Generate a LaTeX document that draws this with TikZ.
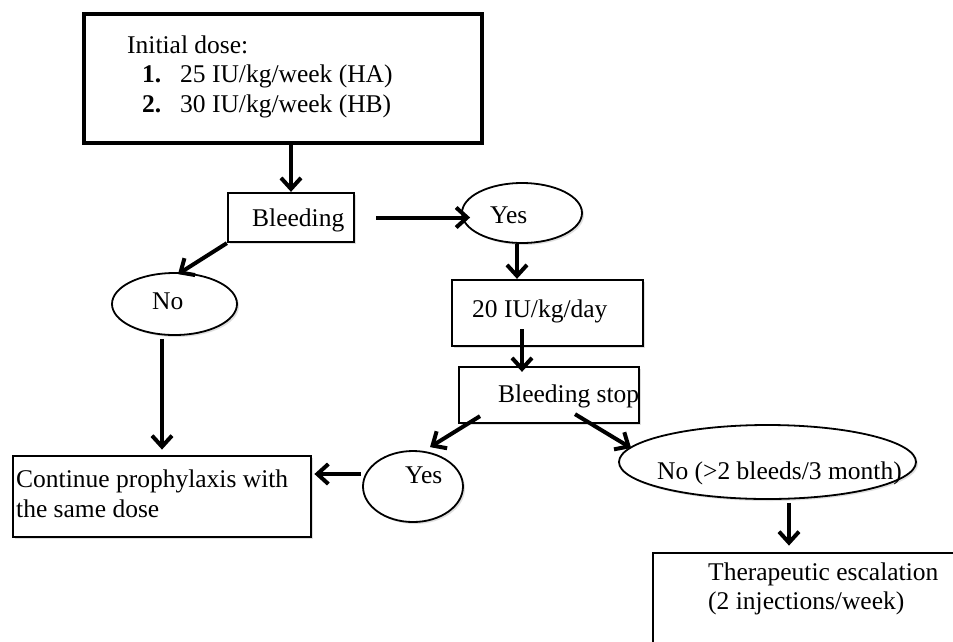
\documentclass[tikz,border=0pt]{standalone}
\usepackage{fontspec}
\setmainfont{Liberation Serif}
\usetikzlibrary{arrows.meta,shapes.geometric,calc,shadows}
\begin{document}
\begin{tikzpicture}[x=1pt,y=-1pt,
  shd/.style={drop shadow={shadow xshift=2pt,shadow yshift=-2pt,opacity=0.25,fill=gray}},
  boxnode/.style={draw=black,line width=2.3pt,fill=white,rectangle,inner sep=0pt,shd},
  ellnode/.style={draw=black,line width=1.8pt,fill=white,ellipse,inner sep=0pt,shd},
  txt/.style={anchor=base west,inner sep=0pt,font=\fontsize{25.5}{30}\selectfont},
  arr/.style={line width=4pt,-{Straight Barb[length=11pt,width=20pt,line width=4pt]}}]
\clip (0,0) rectangle (953,641);
\fill[white] (0,0) rectangle (953,641);
% shapes
\node[boxnode,line width=3.3pt,minimum width=398pt,minimum height=129pt] (init) at (283,78.5) {};
\node[boxnode,minimum width=126pt,minimum height=49pt] (bleed) at (291,217.5) {};
\node[ellnode,minimum width=120pt,minimum height=60pt] (yes1) at (522,213) {};
\node[ellnode,minimum width=125pt,minimum height=62pt] (no1) at (174.5,304) {};
\node[boxnode,minimum width=191pt,minimum height=66pt] (d20) at (547.5,313) {};
\node[boxnode,minimum width=180pt,minimum height=56pt] (stop) at (549,395) {};
\node[ellnode,minimum width=297pt,minimum height=74pt] (no2) at (767.5,462) {};
\node[ellnode,minimum width=100pt,minimum height=71pt] (yes2) at (413,486.5) {};
\node[boxnode,line width=2.8pt,minimum width=298pt,minimum height=81pt] (cont) at (162,496.5) {};
\node[boxnode,line width=2.8pt,minimum width=317pt,minimum height=107pt] (ther) at (811.5,606.5) {};
% texts
\node[txt] (ti1) at (127,53) {Initial dose:};
\node[txt] (ti2) at (142,82) {\textbf{1.}};
\node[txt] (ti3) at (180,82) {25 IU/kg/week (HA)};
\node[txt] (ti4) at (142,112) {\textbf{2.}};
\node[txt] (ti5) at (180,112) {30 IU/kg/week (HB)};
\node[txt] (tb) at (252,226) {Bleeding};
\node[txt] (ty1) at (490,223) {Yes};
\node[txt] (tn1) at (152,309) {No};
\node[txt] (td) at (472,317) {20 IU/kg/day};
\begin{scope}
\clip (stop.north west) rectangle (stop.south east);
\node[txt] (ts) at (498,402) {Bleeding stop};
\end{scope}
\node[txt] (ty2) at (405,483) {Yes};
\node[txt] (tn2) at (657,479) {No (>2 bleeds/3 month)};
\node[txt] (tc1) at (16,487) {Continue prophylaxis with};
\node[txt] (tc2) at (16,517) {the same dose};
\node[txt] (tt1) at (708,580) {Therapeutic escalation};
\node[txt] (tt2) at (708,609) {(2 injections/week)};
% arrows
\draw[arr] (init.south -| bleed.north) -- (bleed.north);
\draw[arr] ($(bleed.east)+(21,0)$) -- ($(yes1.west |- bleed.east)+(9,0)$);
\draw[arr] (bleed.south west) -- ($(no1.north)+(3.5,2)$);
\draw[arr] ($(yes1.south)+(-5,0)$) -- ($(yes1.south |- d20.north)+(-5,0)$);
\draw[arr] ($(no1.south)+(-12.5,3)$) -- ($(cont.north)+(0,-5)$);
\draw[arr] ($(d20.south)+(-25.5,-18)$) -- ($(stop.north)+(-27,6)$);
\draw[arr] ($(stop.south)+(-69,-8)$) -- ($(yes2.north)+(17,-3)$);
\draw[arr] ($(stop.south)+(26,-10)$) -- ($(no2.west)+(13,-14)$);
\draw[arr] ($(no2.south)+(21.5,3)$) -- ($(ther.north)+(-22.5,-6)$);
\draw[arr] ($(yes2.west)+(-1,-12.5)$) -- ($(cont.east)+(2,-22.5)$);
\end{tikzpicture}
\end{document}
